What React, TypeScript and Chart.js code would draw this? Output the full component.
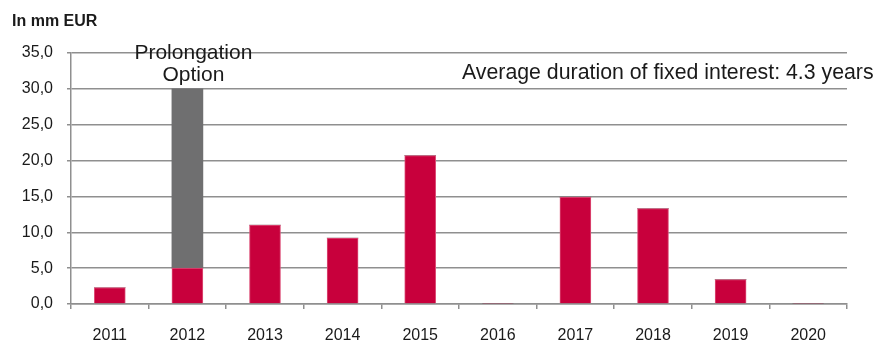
import React, { useEffect, useRef } from "react";
import { Chart, registerables } from "chart.js";

Chart.register(...registerables);

const categories = ["2011", "2012", "2013", "2014", "2015", "2016", "2017", "2018", "2019", "2020"];
const maturities = [2.3, 5.0, 11.0, 9.2, 20.7, 0.1, 14.9, 13.3, 3.4, 0.1];
const prolongation = [0, 25.0, 0, 0, 0, 0, 0, 0, 0, 0];
const yMin = 0;
const yMax = 35;
const yStep = 5;
const unitLabel = "In mm EUR";
const prolongationLabel = ["Prolongation", "Option"];
const durationNote = "Average duration of fixed interest: 4.3 years";

const FONT = "'Liberation Sans', Arial, sans-serif";
const RED = "#C8003C";
const RED_EDGE = "#dc4f78";
const GREY_BAR = "#6f6f70";
const GRID = "#8f8f8f";
const TEXT = "#1a1a1a";

const textPlugin = {
  id: "annotText",
  afterDraw(chart: any) {
    const ctx = chart.ctx;
    const x = chart.scales.x;
    ctx.save();
    ctx.fillStyle = TEXT;
    ctx.textBaseline = "alphabetic";
    ctx.font = `bold 16px ${FONT}`;
    ctx.textAlign = "left";
    ctx.fillText(unitLabel, 12, 26);

    ctx.font = `21px ${FONT}`;
    ctx.textAlign = "center";
    const cx = x.getPixelForValue(1) + 6;
    ctx.fillText(prolongationLabel[0], cx, 59);
    ctx.fillText(prolongationLabel[1], cx, 81);

    ctx.font = `21.3px ${FONT}`;
    ctx.textAlign = "left";
    ctx.fillText(durationNote, 462, 79);
    ctx.restore();
  },
};

export default function App() {
  const ref = useRef<HTMLCanvasElement | null>(null);
  useEffect(() => {
    document.body.style.margin = "0";
    const chart = new Chart(ref.current as HTMLCanvasElement, {
      type: "bar",
      data: {
        labels: categories,
        datasets: [
          { label: "Maturities", data: maturities, backgroundColor: RED, borderColor: RED_EDGE, borderWidth: 1, barThickness: 31 },
          { label: "Prolongation option", data: prolongation, backgroundColor: GREY_BAR, barThickness: 31 },
        ],
      },
      options: {
        animation: false,
        responsive: false,
        maintainAspectRatio: false,
        layout: { padding: { left: 0, right: 30, top: 53, bottom: 0 } },
        plugins: { legend: { display: false }, tooltip: { enabled: false } },
        scales: {
          x: {
            stacked: true,
            grid: { offset: true, drawOnChartArea: false, tickLength: 5, color: GRID, lineWidth: 1.5 },
            border: { color: GRID, width: 1.5 },
            ticks: { color: TEXT, font: { family: FONT, size: 16 }, padding: 17, maxRotation: 0 },
            afterFit: (s: any) => { s.height = 39; },
          },
          y: {
            stacked: true,
            min: yMin,
            max: yMax,
            grid: { color: GRID, tickLength: 4, lineWidth: 1.5 },
            border: { color: GRID, width: 1.5 },
            ticks: {
              stepSize: yStep,
              color: TEXT,
              padding: 14,
              font: { family: FONT, size: 16 },
              callback: (v: any) => Number(v).toFixed(1).replace(".", ","),
            },
            afterFit: (s: any) => { s.width = 71; },
          },
        },
      },
      plugins: [textPlugin],
    });
    return () => chart.destroy();
  }, []);
  return (
    <div style={{ position: "fixed", left: 0, top: 0, width: 877, height: 343 }}>
      <canvas ref={ref} width={877} height={343} style={{ width: 877, height: 343, display: "block" }} />
    </div>
  );
}
